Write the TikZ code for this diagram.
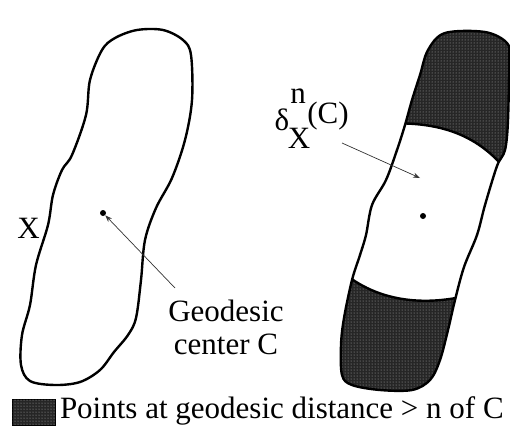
\documentclass[tikz,border=0pt]{standalone}
\usepackage{fontspec}
\setmainfont{Liberation Serif}
\usetikzlibrary{arrows.meta,patterns}

\begin{document}
\begin{tikzpicture}[x=1pt, y=-1pt,
  outline/.style={line width=2.4pt, line join=round},
  dark/.style={fill=black!85, postaction={pattern=dots, pattern color=white!70!black}},
  arr/.style={-{Stealth[length=7pt, width=5pt]}, line width=0.7pt, black!80},
  lbl/.style={font=\fontsize{31}{33}\selectfont, inner sep=0pt},
  dotc/.style={circle, fill=black, inner sep=0pt, minimum size=6pt}]

\useasboundingbox (0,0) rectangle (510,439);

% ---------- set X ----------
\draw[outline] plot[smooth cycle, tension=0.55] coordinates {
  (137,30) (163,30) (183,40) (191,55) (192,100) (185,140) (172,178) (156,208)
  (145,240) (141,280) (136,318) (128,335) (114,352) (100,370) (80,382) (55,385)
  (30,381) (21,365) (22,335) (30,305) (36,265) (48,225) (53,195) (62,170)
  (72,155) (86,115) (90,80) (102,50) (115,38)};
\node[dotc]                     (c1) at (103,213) {};
\node[lbl, anchor=east]         (x1) at (40,228) {X};
\node[lbl, align=center]        (gc) at (226,327) {Geodesic\\center C};
\draw[arr] (175,288) -- (c1.south east);

% ---------- geodesic ball ----------
\begin{scope}
  \clip plot[smooth cycle, tension=0.55] coordinates {
    (445,33) (485,32) (507,43) (509,60) (508,120) (505,150) (497,166) (485,205)
    (477,235) (464,267) (455,300) (448,330) (440,360) (430,380) (412,390) (380,390)
    (352,385) (342,375) (341,345) (344,318) (352,280) (360,255) (366,235) (372,205)
    (386,180) (397,150) (405,125) (412,100) (420,75) (428,50)};
  \path[dark] (380,124) .. controls (440,120) and (480,135) .. (510,175)
    -- (520,0) -- (380,0) -- cycle;
  \path[dark] (340,270) .. controls (380,305) and (430,305) .. (470,295)
    -- (470,439) -- (330,439) -- cycle;
  \draw[outline] (380,124) .. controls (440,120) and (480,135) .. (510,175);
  \draw[outline] (340,270) .. controls (380,305) and (430,305) .. (470,295);
\end{scope}
\draw[outline] plot[smooth cycle, tension=0.55] coordinates {
  (445,33) (485,32) (507,43) (509,60) (508,120) (505,150) (497,166) (485,205)
  (477,235) (464,267) (455,300) (448,330) (440,360) (430,380) (412,390) (380,390)
  (352,385) (342,375) (341,345) (344,318) (352,280) (360,255) (366,235) (372,205)
  (386,180) (397,150) (405,125) (412,100) (420,75) (428,50)};
\node[dotc]                     (c2) at (423,216) {};
\node[lbl]                      (dl) at (282,120) {δ};
\node[lbl]                      (dn) at (298,96) {n};
\node[lbl]                      (dx) at (299,138) {X};
\node[lbl]                      (dc) at (328,116) {(C)};
\coordinate                     (dt) at (420,178);
\draw[arr] (342,143) -- (dt);

% ---------- legend ----------
\node[dark, draw=black, line width=0.8pt, minimum width=43pt, minimum height=26pt,
      inner sep=0pt, anchor=west] (key) at (12,412) {};
\node[lbl, anchor=west]         (kt) at (key.east) [xshift=4pt, yshift=1pt]
  {Points at geodesic distance > n of C};
\end{tikzpicture}
\end{document}
